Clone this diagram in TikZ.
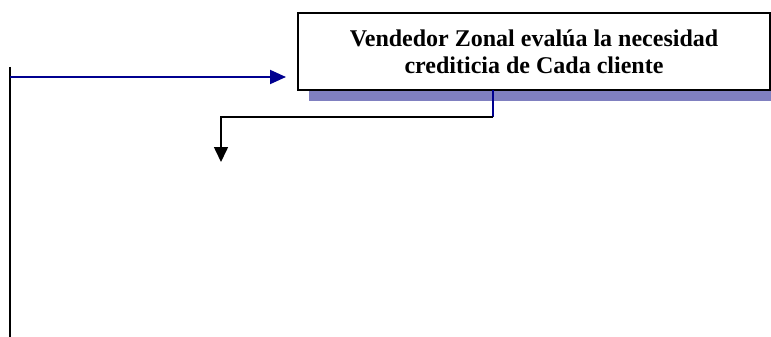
\documentclass[tikz,border=0pt]{standalone}
\usepackage{fontspec}
\setmainfont{Liberation Serif}
\usetikzlibrary{arrows.meta}
\definecolor{navy}{HTML}{000090}
\definecolor{shadowblue}{HTML}{8080C0}
\begin{document}
\begin{tikzpicture}[x=1pt,y=-1pt,
  procbox/.style={draw=black,line width=1.6pt,fill=white,minimum width=472pt,minimum height=77pt,inner sep=0pt,align=center,font=\fontsize{24}{27}\selectfont\bfseries},
  bluearrow/.style={draw=navy,line width=2pt,-{Triangle[length=16pt,width=14pt]}},
  blackarrow/.style={draw=black,line width=1.6pt,-{Triangle[length=15pt,width=14pt]}}]
\useasboundingbox (0,0) rectangle (771,337);
\fill[shadowblue] (309,24) rectangle (771,101);
\node[procbox] (box) at (534,51.5) {Vendedor Zonal evalúa la necesidad\\crediticia de Cada cliente};
\coordinate (top) at (10,67);
\coordinate (bot) at (10,337);
\coordinate (left) at (10,77);
\coordinate (tip) at (286,77);
\coordinate (drop) at (493,90);
\coordinate (elbow) at (493,117);
\coordinate (corner) at (221,117);
\coordinate (down) at (221,162);
\draw[black,line width=1.6pt] (top) -- (bot);
\draw[bluearrow] (left) -- (tip);
\draw[navy,line width=1.6pt] (drop) -- (elbow);
\draw[blackarrow] (elbow) -- (corner) -- (down);
\end{tikzpicture}
\end{document}
